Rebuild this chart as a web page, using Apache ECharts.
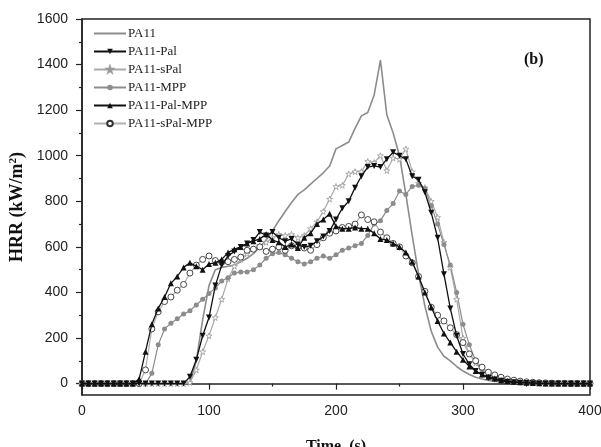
<!DOCTYPE html>
<html>
<head>
<meta charset="utf-8">
<script src="https://cdn.jsdelivr.net/npm/echarts@6/dist/echarts.min.js"></script>
<style>
html,body{margin:0;padding:0;background:#fff;}
#c{width:601px;height:447px;}
</style>
</head>
<body>
<div id="c"></div>
<script>
// Time (s), sampled every 5 s
const time = [0,5,10,15,20,25,30,35,40,45,50,55,60,65,70,75,80,85,90,95,100,105,110,115,120,125,130,135,140,145,150,155,160,165,170,175,180,185,190,195,200,205,210,215,220,225,230,235,240,245,250,255,260,265,270,275,280,285,290,295,300,305,310,315,320,325,330,335,340,345,350,355,360,365,370,375,380,385,390,395,400];

const seriesNames = ['PA11','PA11-Pal','PA11-sPal','PA11-MPP','PA11-Pal-MPP','PA11-sPal-MPP'];

const hrrPA11 = [0,0,0,0,0,0,0,0,0,0,0,0,0,0,0,0,0,2,100,280,430,500,510,515,520,535,550,570,600,630,670,715,755,795,830,850,875,900,925,955,1030,1045,1060,1120,1175,1190,1265,1420,1180,1100,1000,830,650,480,340,230,160,120,100,75,55,40,28,20,14,10,7,5,3,2,2,1,1,1,0,0,0,0,0,0,0];

const hrrPal = [0,0,0,0,0,0,0,0,0,0,0,0,0,0,0,0,0,30,105,210,290,430,520,560,580,600,615,630,665,650,665,640,625,635,610,600,605,625,645,670,720,770,800,860,910,950,955,950,985,1015,1000,985,910,895,840,750,640,480,330,210,130,85,55,38,25,18,12,8,6,4,3,2,1,1,0,0,0,0,0,0,0];

const hrrSPal = [0,0,0,0,0,0,0,0,0,0,0,0,0,0,0,0,0,5,60,140,210,290,370,460,515,545,570,590,605,620,640,655,650,655,640,650,680,710,755,810,865,870,920,930,930,975,970,1000,935,990,985,1030,930,880,860,800,730,620,510,370,200,130,90,60,40,28,20,14,10,7,5,3,2,1,1,0,0,0,0,0,0];

const hrrMPP = [0,0,0,0,0,0,0,0,0,0,0,45,170,240,265,285,305,320,345,370,395,420,450,465,485,490,490,500,520,550,570,575,565,550,535,525,535,550,560,550,565,585,595,605,615,650,700,715,760,790,845,830,865,870,855,780,700,610,520,400,260,170,100,60,40,28,20,14,10,7,5,3,2,1,1,0,0,0,0,0,0];

const hrrPalMPP = [0,0,0,0,0,0,0,0,0,20,140,260,330,380,440,470,510,530,515,500,525,530,545,575,590,600,615,625,635,655,630,620,600,610,595,640,660,700,720,745,690,680,680,685,680,680,660,635,630,615,600,575,535,470,400,335,275,220,180,140,105,75,55,40,30,22,15,11,8,6,4,3,2,1,1,0,0,0,0,0,0];

const hrrSPalMPP = [0,0,0,0,0,0,0,0,0,0,60,240,315,360,380,410,435,485,520,545,560,540,532,535,545,555,585,590,600,580,590,600,585,605,600,595,585,610,640,660,670,685,690,700,740,720,710,665,640,615,600,560,530,470,405,335,300,275,245,215,180,130,100,72,50,38,28,20,15,11,8,6,4,3,2,1,1,0,0,0,0];

const yMajor = [0,200,400,600,800,1000,1200,1400,1600];
const yMinor = [100,300,500,700,900,1100,1300,1500];

const pairs = v => time.map((t,i)=>[t,v[i]]);
const star = 'path://M50,0 L61,35 L98,35 L68,57 L79,91 L50,70 L21,91 L32,57 L2,35 L39,35 Z';

const chart = echarts.init(document.getElementById('c'), null, {renderer:'canvas'});
const serif = 'Liberation Serif';
const sans = 'Liberation Sans';

chart.setOption({
  animation:false,
  backgroundColor:'#fff',
  grid:{left:82,right:11,top:19,bottom:52,show:true,borderColor:'#222',borderWidth:1.5,backgroundColor:'transparent',
        containLabel:false,outerBoundsMode:'none'},
  legend:{
    orient:'vertical',left:93,top:27,padding:0,
    itemWidth:32,itemHeight:7,itemGap:5,
    data:seriesNames,
    textStyle:{fontFamily:serif,fontSize:13,color:'#222',lineHeight:12,padding:[0,0,0,-3]}
  },
  xAxis:{
    type:'value',min:0,max:400,interval:100,
    name:'Time  (s)',nameLocation:'middle',nameGap:44,
    nameTextStyle:{fontFamily:serif,fontWeight:'bold',fontSize:16,color:'#111'},
    axisLine:{lineStyle:{color:'#222',width:1.5}},
    axisTick:{length:6,lineStyle:{color:'#222',width:1.2}},
    minorTick:{show:true,splitNumber:2,length:3,lineStyle:{color:'#222',width:1.2}},
    axisLabel:{fontFamily:sans,fontSize:14,color:'#222',margin:9},
    splitLine:{show:false}
  },
  yAxis:[{
    type:'value',min:-50,max:1600,
    name:'HRR (kW/m{sup|2})',nameLocation:'middle',nameGap:55,nameRotate:90,
    nameTextStyle:{fontFamily:serif,fontWeight:'bold',fontSize:18,color:'#111',
      rich:{sup:{fontFamily:serif,fontWeight:'bold',fontSize:11,verticalAlign:'top',padding:[0,0,8,0]}}},
    axisLine:{show:true,lineStyle:{color:'#222',width:1.5}},
    axisTick:{show:true,length:6,customValues:yMajor,lineStyle:{color:'#222',width:1.2}},
    axisLabel:{fontFamily:sans,fontSize:14,color:'#222',margin:14,customValues:yMajor,formatter:v=>String(v)},
    splitLine:{show:false}
  },{
    type:'value',min:-50,max:1600,position:'left',
    axisLine:{show:false},
    axisTick:{show:true,length:3,customValues:yMinor,lineStyle:{color:'#222',width:1.2}},
    axisLabel:{show:false},
    splitLine:{show:false}
  }],
  graphic:[{
    type:'text',left:524,top:52,
    style:{text:'(b)',font:'bold 16px "Liberation Serif"',fill:'#111'}
  }],
  series:[
    {name:seriesNames[0],type:'line',data:pairs(hrrPA11),showSymbol:false,symbol:'circle',
     lineStyle:{color:'#8c8c8c',width:1.6},itemStyle:{color:'rgba(0,0,0,0)'},z:2},
    {name:seriesNames[1],type:'line',data:pairs(hrrPal),symbol:'triangle',symbolRotate:180,symbolSize:6,showAllSymbol:true,
     lineStyle:{color:'#111',width:1.3},itemStyle:{color:'#111'},z:5},
    {name:seriesNames[2],type:'line',data:pairs(hrrSPal),symbol:star,symbolSize:6,showAllSymbol:true,
     lineStyle:{color:'#aaaaaa',width:1.2},itemStyle:{color:'#fff',borderColor:'#999',borderWidth:0.8},z:3},
    {name:seriesNames[3],type:'line',data:pairs(hrrMPP),symbol:'circle',symbolSize:5,showAllSymbol:true,
     lineStyle:{color:'#8c8c8c',width:1.2},itemStyle:{color:'#8c8c8c'},z:3},
    {name:seriesNames[4],type:'line',data:pairs(hrrPalMPP),symbol:'triangle',symbolSize:6,showAllSymbol:true,
     lineStyle:{color:'#111',width:1.3},itemStyle:{color:'#111'},z:5},
    {name:seriesNames[5],type:'line',data:pairs(hrrSPalMPP),symbol:'circle',symbolSize:6,showAllSymbol:true,
     lineStyle:{color:'#b0b0b0',width:1.2},itemStyle:{color:'#fff',borderColor:'#333',borderWidth:0.9},z:4}
  ]
});
</script>
</body>
</html>
